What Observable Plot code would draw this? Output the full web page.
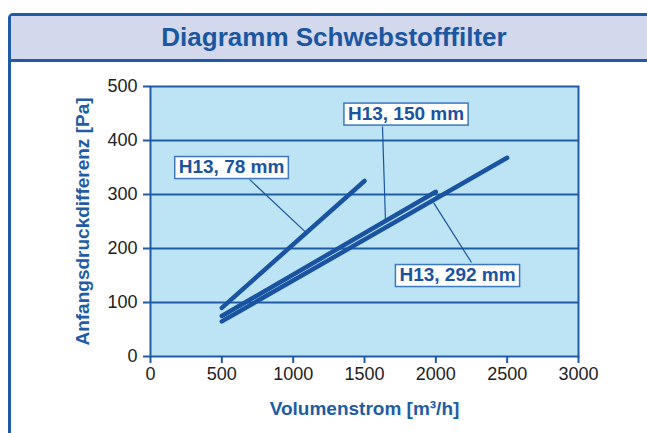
<!DOCTYPE html>
<html>
<head>
<meta charset="utf-8">
<script src="https://cdn.jsdelivr.net/npm/d3@7"></script>
<script src="https://cdn.jsdelivr.net/npm/@observablehq/plot@0.6"></script>
<style>
  html, body { margin: 0; padding: 0; background: #fff; overflow: hidden; }
  #frame { position: absolute; left: 8px; top: 13px; width: 780px; height: 425px; box-sizing: border-box;
           border: 3px solid #1f5ca5; border-radius: 5px; }
  #band { position: absolute; left: 0; top: 0; right: 0; height: 46px; box-sizing: border-box;
          background: #d3d8ec; border-bottom: 3px solid #1f5ca5; }
  #title { position: absolute; left: 0; top: 14px; width: 668px; height: 46px; line-height: 46px; text-align: center;
           font-family: "Liberation Sans", Arial, sans-serif; font-weight: bold; font-size: 26px; color: #1b57a1; }
  #chart { position: absolute; left: 0; top: 62px; }
</style>
</head>
<body>
<div id="frame"><div id="band"></div></div>
<div id="title">Diagramm Schwebstofffilter</div>
<div id="chart"></div>
<script>
// Series
const series = ["H13, 78 mm", "H13, 150 mm", "H13, 292 mm"];
const xStart = [500, 500, 500];
const yStart = [90, 75, 65];
const xEnd = [1500, 2000, 2500];
const yEnd = [325, 305, 368];

// Label boxes (centre, data units) and leader lines
const labelX = [568, 1791, 2152];
const labelY = [351, 450, 151];
const leaderX1 = [694, 1626, 2250];
const leaderY1 = [328, 426, 174];
const leaderX2 = [1093, 1647, 1984];
const leaderY2 = [229, 251, 285];

// Ticks
const xTicks = [0, 500, 1000, 1500, 2000, 2500, 3000];
const yTicks = [0, 100, 200, 300, 400, 500];
const gridY = [100, 200, 300, 400];

const xLabel = "Volumenstrom [m³/h]";
const yLabel = "Anfangsdruckdifferenz [Pa]";

const rows = [];
series.forEach((s, i) => {
  rows.push({series: s, x: xStart[i], y: yStart[i]});
  rows.push({series: s, x: xEnd[i], y: yEnd[i]});
});
const labels = series.map((s, i) => ({text: s, x: labelX[i], y: labelY[i]}));
const leaders = series.map((s, i) => ({x1: leaderX1[i], y1: leaderY1[i], x2: leaderX2[i], y2: leaderY2[i]}));

const blue = "#1f5ca5";
const lineBlue = "#1a54a0";

const plot = Plot.plot({
  width: 647,
  height: 371,
  marginLeft: 150,
  marginRight: 69,
  marginTop: 24,
  marginBottom: 77,
  style: {background: "transparent", fontFamily: "Liberation Sans, Arial, sans-serif", overflow: "visible"},
  x: {domain: [0, 3000]},
  y: {domain: [0, 500]},
  marks: [
    Plot.frame({fill: "#bde4f5", stroke: null}),
    Plot.ruleY(gridY, {stroke: blue, strokeWidth: 2}),
    Plot.frame({stroke: blue, strokeWidth: 2}),
    Plot.axisX({ticks: xTicks, tickSize: 7, tickPadding: 4, stroke: blue, strokeWidth: 2, fill: "#222", fontSize: 18, label: null, tickFormat: d => String(d)}),
    Plot.axisY({ticks: yTicks, tickSize: 7, tickPadding: 6, stroke: blue, strokeWidth: 2, fill: "#222", fontSize: 18, label: null, tickFormat: d => String(d)}),
    Plot.line(rows, {x: "x", y: "y", z: "series", stroke: lineBlue, strokeWidth: 4.5, strokeLinecap: "round"}),
    Plot.link(leaders, {x1: "x1", y1: "y1", x2: "x2", y2: "y2", stroke: lineBlue, strokeWidth: 1.2}),
    Plot.text(labels, {x: "x", y: "y", text: "text", fill: lineBlue, fontSize: 19, fontWeight: "bold"}),
    Plot.text([xLabel], {frameAnchor: "bottom", lineAnchor: "middle", dy: 52, fill: blue, fontSize: 19, fontWeight: "bold"}),
    Plot.text([yLabel], {frameAnchor: "left", textAnchor: "middle", lineAnchor: "middle", dx: -68, rotate: -90, fill: blue, fontSize: 19, fontWeight: "bold"})
  ]
});
document.getElementById("chart").appendChild(plot);

// white boxes behind the series labels
plot.querySelectorAll("text").forEach(t => {
  if (series.includes(t.textContent)) {
    const b = t.getBBox();
    const r = document.createElementNS("http://www.w3.org/2000/svg", "rect");
    r.setAttribute("x", b.x - 4);
    r.setAttribute("y", b.y + 0.5);
    r.setAttribute("width", b.width + 8);
    r.setAttribute("height", b.height + 1);
    r.setAttribute("fill", "#fff");
    r.setAttribute("stroke", "#3a78c0");
    r.setAttribute("stroke-width", 1.5);
    const tr = t.getAttribute("transform");
    if (tr) r.setAttribute("transform", tr);
    t.parentNode.insertBefore(r, t);
  }
});
</script>
</body>
</html>
